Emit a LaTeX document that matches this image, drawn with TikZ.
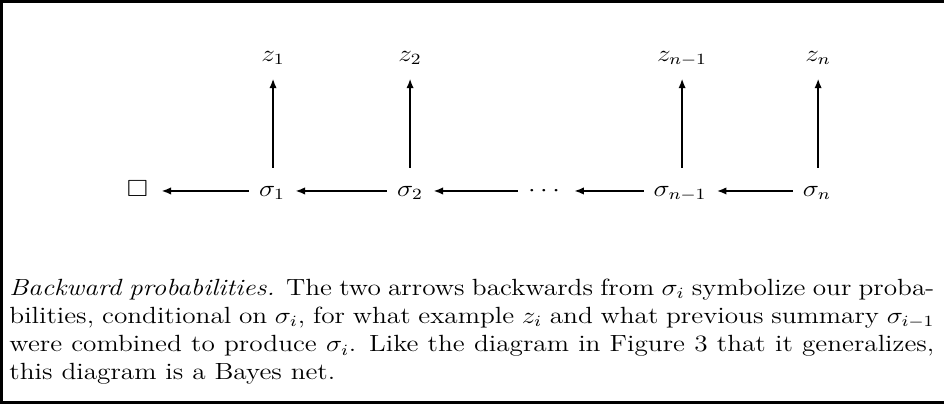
\documentclass[tikz,border=0pt]{standalone}
\usepackage{amssymb}
\usetikzlibrary{arrows.meta}
\begin{document}
\begin{tikzpicture}[x=0.5124pt,y=-0.5124pt,
  font=\fontsize{12}{14.5}\selectfont,
  lbl/.style={inner sep=0pt,anchor=base,text height=6.6pt,text depth=1.44pt},
  tip/.style={-{Latex[length=5pt,width=3.8pt]}},
  arr/.style={line width=1pt,tip,shorten <=5pt,shorten >=5pt},
  varr/.style={line width=1pt,tip,shorten <=7.7pt,shorten >=7.3pt},
  frame/.style={line width=1.35pt}]
\useasboundingbox (0,0) rectangle (944,404);
\draw[frame] (944,1.3) -- (1.3,1.3) -- (1.3,402.7) -- (944,402.7);
\begin{scope}[x=0.43983pt,y=-0.5124pt,xscale=1.165,transform shape]
% top row
\node[lbl] (z1) at (273,61) {$z_1$};
\node[lbl] (z2) at (410,61) {$z_2$};
\node[lbl] (zn1) at (682,61) {$z_{n-1}$};
\node[lbl] (zn) at (818,61) {$z_n$};
% bottom row
\node[lbl] (box) at (137.5,196) {$\square$};
\node[lbl] (s1) at (272,196) {$\sigma_1$};
\node[lbl] (s2) at (410,196) {$\sigma_2$};
\node[lbl] (dots) at (544,196) {$\cdots$};
\node[lbl] (sn1) at (680,196) {$\sigma_{n-1}$};
\node[lbl] (sn) at (817,196) {$\sigma_n$};
% arrows
\draw[varr] (s1.north -| z1) -- (z1.south);
\draw[varr] (s2.north -| z2) -- (z2.south);
\draw[varr] (sn1.north -| zn1) -- (zn1.south);
\draw[varr] (sn.north -| zn) -- (zn.south);
\draw[arr,shorten >=6.5pt] (s1.west) -- (box.east);
\draw[arr] (s2.west) -- (s1.east);
\draw[arr] (dots.west) -- (s2.east);
\draw[arr,shorten >=7pt] (sn1.west) -- (dots.east);
\draw[arr] (sn.west) -- (sn1.east);
% caption
\node[anchor=base west,inner sep=0pt] (cap) at (9,295) {\parbox[t]{406.8pt}{\emph{Backward probabilities.} The two arrows backwards from $\sigma_i$ symbolize our proba-\linebreak bilities, conditional on $\sigma_i$, for what example $z_i$ and what previous summary $\sigma_{i-1}$\linebreak were combined to produce $\sigma_i$. Like the diagram in Figure 3 that it generalizes,\linebreak this diagram is a Bayes net.}};
\end{scope}
\end{tikzpicture}
\end{document}
